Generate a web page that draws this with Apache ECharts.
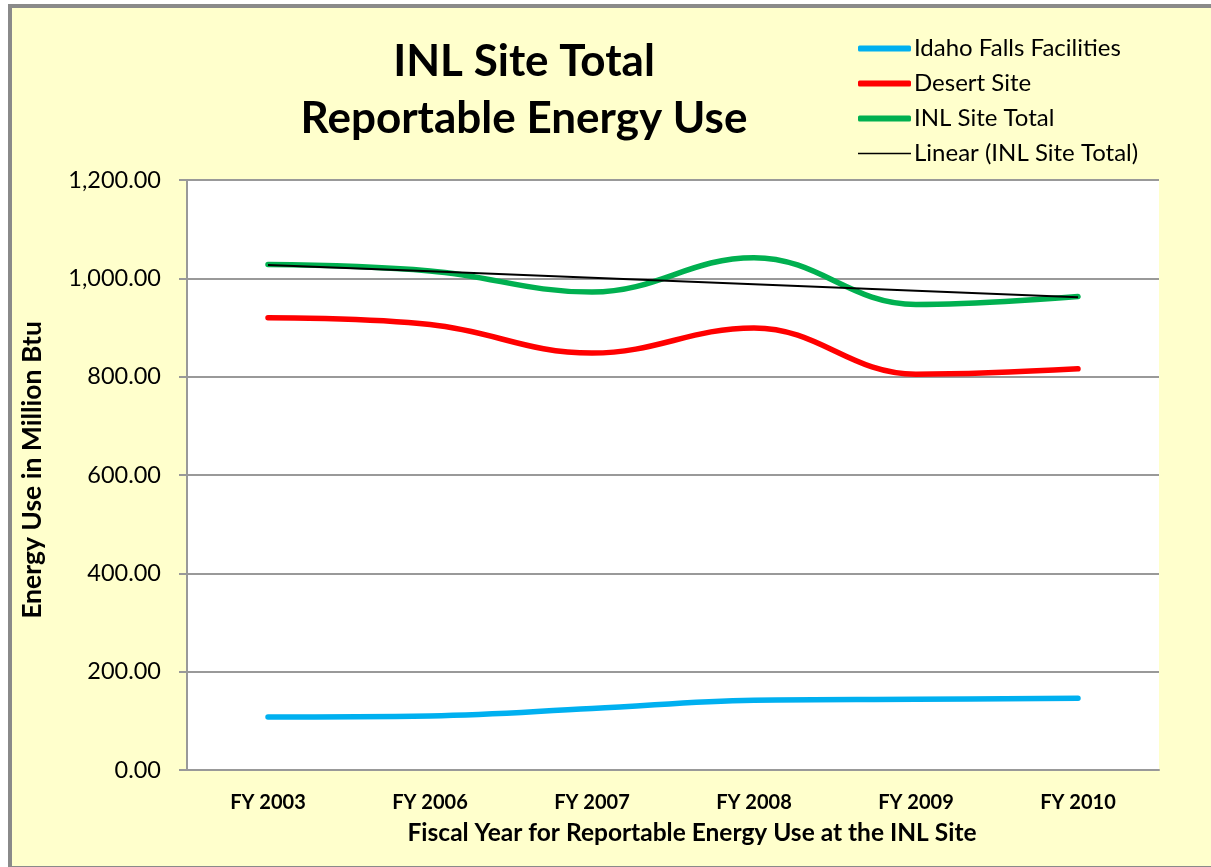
<!DOCTYPE html>
<html>
<head>
<meta charset="utf-8">
<script src="https://cdn.jsdelivr.net/npm/echarts@6/dist/echarts.min.js"></script>
<style>
html,body{margin:0;padding:0;background:#fff;overflow:hidden;}
#frame{position:absolute;left:8px;top:4px;width:1220px;height:858px;border:4px solid #8a8a8a;background:#FFFFCC;}
#chart{position:absolute;left:-12px;top:-8px;width:1211px;height:867px;}
</style>
</head>
<body>
<div id="frame"><div id="chart"></div></div>
<script>
const categories = ['FY 2003','FY 2006','FY 2007','FY 2008','FY 2009','FY 2010'];
const idahoFalls = [108, 110, 125, 142, 144, 146];
const desertSite = [920, 906, 848, 899, 805, 816];
const inlTotal   = [1028, 1015, 972, 1042, 947, 963];
const yTicks = [0, 200, 400, 600, 800, 1000, 1200];

// Linear trendline (least squares) of INL Site Total, as Excel computes it
const n = inlTotal.length;
const xs = inlTotal.map((_, i) => i + 1);
const mx = xs.reduce((a, b) => a + b, 0) / n;
const my = inlTotal.reduce((a, b) => a + b, 0) / n;
let sxy = 0, sxx = 0;
xs.forEach((x, i) => { sxy += (x - mx) * (inlTotal[i] - my); sxx += (x - mx) * (x - mx); });
const slope = sxy / sxx, icpt = my - slope * mx;
const trend = xs.map(x => +(icpt + slope * x).toFixed(2));

const FONT = 'Lato';
const thinIcon = 'path://M0,0M53,6M0,2.2L53,2.2L53,3.8L0,3.8Z';
const chart = echarts.init(document.getElementById('chart'));
chart.setOption({
  backgroundColor: 'transparent',
  textStyle: { fontFamily: FONT },
  title: {
    text: 'INL Site Total\nReportable Energy Use',
    left: 519, top: 28, textAlign: 'center',
    textStyle: { fontFamily: FONT, fontWeight: 'bold', fontSize: 44, lineHeight: 57, color: '#000' }
  },
  legend: {
    orient: 'vertical', left: 853, top: 31,
    itemWidth: 53, itemHeight: 6, itemGap: 10,
    textStyle: { fontFamily: FONT, fontSize: 24, lineHeight: 25, color: '#000', padding: [0,0,0,-2] },
    data: [
      { name: 'Idaho Falls Facilities', icon: 'roundRect' },
      { name: 'Desert Site', icon: 'roundRect' },
      { name: 'INL Site Total', icon: 'roundRect' },
      { name: 'Linear (INL Site Total)', icon: thinIcon }
    ]
  },
  grid: { left: 187, right: 52, top: 180, bottom: 97, show: true, backgroundColor: '#fff', borderWidth: 0 },
  xAxis: {
    type: 'category', data: categories, boundaryGap: true,
    axisLine: { lineStyle: { color: '#999', width: 2 } },
    axisTick: { show: false },
    axisLabel: { fontFamily: FONT, fontWeight: 'bold', fontSize: 20, color: '#000', margin: 23 },
    name: 'Fiscal Year for Reportable Energy Use at the INL Site',
    nameLocation: 'middle', nameGap: 51,
    nameTextStyle: { fontFamily: FONT, fontWeight: 'bold', fontSize: 24.5, color: '#000', padding: [0,0,0,38] }
  },
  yAxis: {
    type: 'value', min: 0, max: 1200, interval: 200,
    axisLine: { show: true, lineStyle: { color: '#999', width: 2 } },
    axisTick: { show: true, length: 8, lineStyle: { color: '#999', width: 2 } },
    splitLine: { lineStyle: { color: '#999', width: 2 } },
    axisLabel: { fontFamily: FONT, fontSize: 23.5, color: '#000', margin: 26,
      formatter: v => yTicks.includes(v) ? v.toLocaleString('en-US', { minimumFractionDigits: 2, maximumFractionDigits: 2 }) : '' },
    name: 'Energy Use in Million Btu', nameLocation: 'middle', nameGap: 141, nameRotate: 90,
    nameTextStyle: { fontFamily: FONT, fontWeight: 'bold', fontSize: 26.5, color: '#000', padding: [0,0,0,10] }
  },
  series: [
    { name: 'Idaho Falls Facilities', type: 'line', data: idahoFalls, smooth: 0.4, symbol: 'none',
      lineStyle: { color: '#00B0F0', width: 5.5, cap: 'round' }, itemStyle: { color: '#00B0F0' } },
    { name: 'Desert Site', type: 'line', data: desertSite, smooth: 0.4, symbol: 'none',
      lineStyle: { color: '#FF0000', width: 5.5, cap: 'round' }, itemStyle: { color: '#FF0000' } },
    { name: 'INL Site Total', type: 'line', data: inlTotal, smooth: 0.4, symbol: 'none',
      lineStyle: { color: '#00B050', width: 5.5, cap: 'round' }, itemStyle: { color: '#00B050' } },
    { name: 'Linear (INL Site Total)', type: 'line', data: trend, symbol: 'none',
      lineStyle: { color: '#000', width: 2 }, itemStyle: { color: '#000' } }
  ],
  animation: false
});
</script>
</body>
</html>
